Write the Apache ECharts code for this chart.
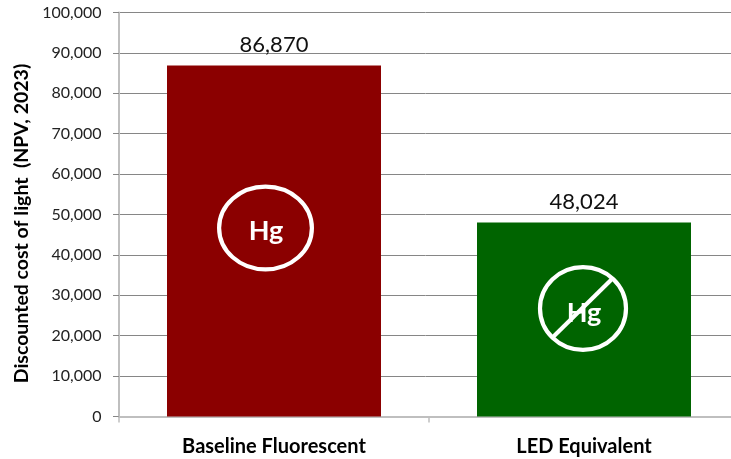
<!DOCTYPE html>
<html>
<head>
<meta charset="utf-8">
<style>html,body{margin:0;padding:0;background:#fff}#c{width:731px;height:459px}</style>
<script src="https://cdn.jsdelivr.net/npm/echarts@6/dist/echarts.min.js"></script>
</head>
<body>
<div id="c"></div>
<script>
const categories = ['Baseline Fluorescent', 'LED Equivalent'];
const costs = [86870, 48024];
const barColors = ['#8b0000', '#006400'];
const yAxisTitle = 'Discounted cost of light  (NPV, 2023)';
const FONT = 'Lato, Carlito, "Open Sans", sans-serif';

const chart = echarts.init(document.getElementById('c'), null, {renderer: 'canvas'});
chart.setOption({
  animation: false,
  backgroundColor: '#fff',
  grid: {left: 119, right: -8, top: 12.5, bottom: 42.5, containLabel: false, outerBoundsMode: 'none'},
  xAxis: {
    type: 'category',
    data: categories,
    axisLine: {show: true, lineStyle: {color: '#bfbfbf', width: 2}},
    axisTick: {show: true, alignWithLabel: false, length: 6, lineStyle: {color: '#bfbfbf', width: 1.5}},
    axisLabel: {color: '#000', fontFamily: FONT, fontWeight: 'bold', fontSize: 20, margin: 20, interval: 0}
  },
  yAxis: {
    type: 'value',
    min: 0, max: 100000, interval: 10000,
    name: yAxisTitle,
    nameLocation: 'middle',
    nameGap: 86,
    nameTextStyle: {color: '#000', fontFamily: FONT, fontWeight: 'bold', fontSize: 19.5, padding: [0, 18, 0, 0]},
    axisLine: {show: true, lineStyle: {color: '#bfbfbf', width: 2}},
    axisTick: {show: true, length: 6, lineStyle: {color: '#868686', width: 1}},
    splitLine: {show: true, lineStyle: {color: '#868686', width: 1}},
    axisLabel: {
      color: '#222', fontFamily: FONT, fontSize: 16, margin: 17.5,
      formatter: v => v.toLocaleString('en-US')
    }
  },
  series: [{
    type: 'bar',
    barWidth: 214,
    data: costs.map((v, i) => ({value: v, itemStyle: {color: barColors[i]}})),
    label: {
      show: true, position: 'top', distance: 10,
      color: '#111', fontFamily: FONT, fontSize: 22,
      formatter: p => p.value.toLocaleString('en-US')
    }
  }],
  graphic: [
    {type: 'text', z: 20, style: {x: 266, y: 231, text: 'Hg', fill: '#fff', font: 'bold 27px ' + FONT, textAlign: 'center', textVerticalAlign: 'middle'}},
    {type: 'ellipse', z: 20, shape: {cx: 265.5, cy: 228, rx: 46.4, ry: 41.4}, style: {fill: 'none', stroke: '#fff', lineWidth: 4.2}},
    {type: 'text', z: 20, style: {x: 584, y: 313, text: 'Hg', fill: '#fff', font: 'bold 27px ' + FONT, textAlign: 'center', textVerticalAlign: 'middle'}},
    {type: 'ellipse', z: 21, shape: {cx: 583, cy: 308.5, rx: 43, ry: 41.4}, style: {fill: 'none', stroke: '#fff', lineWidth: 4.2}},
    {type: 'line', z: 21, shape: {x1: 553, y1: 337, x2: 612, y2: 279}, style: {stroke: '#fff', lineWidth: 4.2}}
  ]
});
</script>
</body>
</html>
